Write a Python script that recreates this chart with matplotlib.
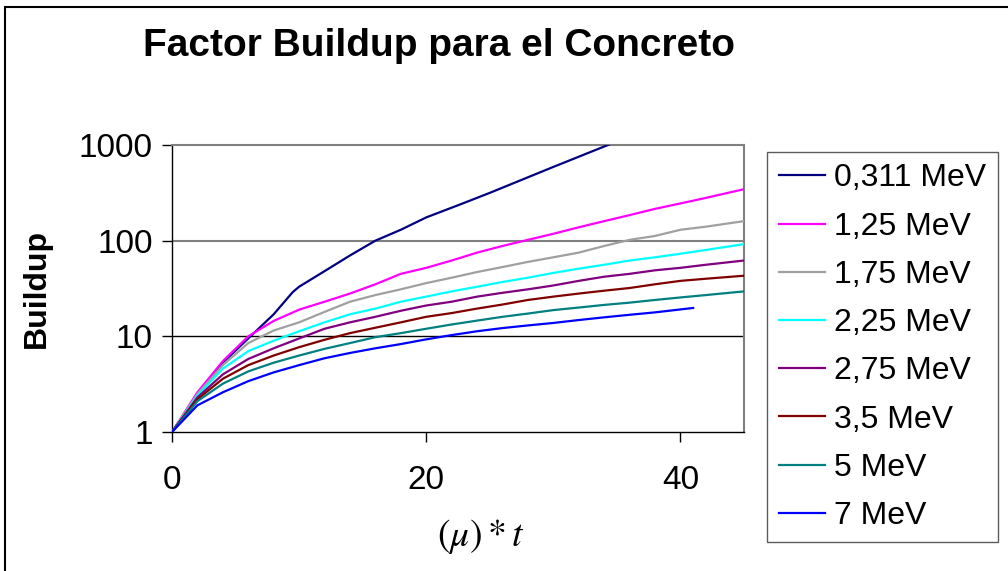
import numpy as np
import matplotlib
matplotlib.use("Agg")
import matplotlib.pyplot as plt
from matplotlib.patches import Rectangle
from matplotlib.ticker import FixedLocator, NullLocator, FuncFormatter

plt.rcParams['font.family'] = ['Liberation Sans', 'DejaVu Sans']
plt.rcParams['mathtext.fontset'] = 'stix'

# factor buildup en concreto vs (mu)*t, por energia
energias = ['0,311 MeV', '1,25 MeV', '1,75 MeV', '2,25 MeV',
            '2,75 MeV', '3,5 MeV', '5 MeV', '7 MeV']
colores = ['#000080', '#FF00FF', '#A0A0A0', '#00FFFF',
           '#800080', '#800000', '#008080', '#0000FF']

mut_0311 = [0, 2, 4, 6, 8, 9.5, 10, 12, 14, 16, 18, 20, 22.7, 25, 30, 34.3, 36, 40]
b_0311 = [1, 2.4, 5.3, 9.5, 17, 29, 33, 48, 70, 100, 130, 175, 240, 316, 590, 1000, 1250, 2000]

mut = [0, 2, 4, 6, 8, 10, 12, 14, 16, 18, 20, 22, 24, 26, 28, 30, 32, 34, 36, 38, 40, 42, 45]
b_125 = [1, 2.6, 5.5, 10, 14.5, 19, 23, 28, 35, 45, 52, 62, 75, 88, 102, 118, 138, 160, 185, 215, 245, 280, 345]
b_175 = [1, 2.5, 5.0, 8.5, 11.5, 14, 18, 23, 27, 31, 36, 41, 47, 53, 60, 67, 75, 88, 102, 112, 130, 140, 160]
b_225 = [1, 2.4, 4.6, 7, 9, 11.3, 14, 17, 19.5, 23, 26, 29.5, 33, 37, 41, 46, 51, 56, 62, 67, 73, 80, 92]
b_275 = [1, 2.3, 4.0, 5.8, 7.5, 9.5, 12, 14, 16, 18.5, 21, 23, 26, 28.5, 31, 34, 38, 42, 45, 49, 52, 56, 62]
b_35 = [1, 2.2, 3.6, 5, 6.3, 7.7, 9.2, 10.8, 12.3, 14, 16, 17.5, 19.5, 21.5, 24, 26, 28, 30, 32, 35, 38, 40, 43]
b_5 = [1, 2.1, 3.2, 4.3, 5.3, 6.3, 7.4, 8.5, 9.8, 10.8, 12, 13.3, 14.6, 16, 17.3, 18.8, 20, 21.3, 22.5, 24, 25.5, 27, 29.5]

mut_7 = [0, 2, 4, 6, 8, 10, 12, 14, 16, 18, 20, 22, 24, 26, 28, 30, 32, 34, 36, 38, 41]
b_7 = [1, 1.9, 2.6, 3.4, 4.2, 5, 5.9, 6.7, 7.5, 8.3, 9.3, 10.3, 11.3, 12.2, 13, 13.8, 14.8, 15.8, 16.8, 17.8, 19.8]

series = [(mut_0311, b_0311), (mut, b_125), (mut, b_175), (mut, b_225),
          (mut, b_275), (mut, b_35), (mut, b_5), (mut_7, b_7)]

W, H = 1008, 571
fig = plt.figure(figsize=(W / 100, H / 100), dpi=100)
ax = fig.add_axes([172 / W, 1 - 432 / H, 572 / W, 287 / H])

# lineas de referencia
ax.axhline(100, color='#808080', lw=1.5, zorder=1)
ax.axhline(10, color='black', lw=1.0, zorder=1)

for (x, y), lab, c in zip(series, energias, colores):
    ax.plot(x, y, color=c, lw=1.6, label=lab, zorder=3)

ax.set_yscale('log')
ax.set_xlim(0, 45)
ax.set_ylim(1, 1000)
ax.yaxis.set_major_locator(FixedLocator([1, 10, 100, 1000]))
ax.yaxis.set_minor_locator(NullLocator())
ax.yaxis.set_major_formatter(FuncFormatter(lambda v, p: '%d' % v))
ax.set_xticks([0, 20, 40])
ax.tick_params(direction='out', length=7, width=1, labelsize=24, pad=7)
ax.tick_params(axis='x', pad=17)

for s in ['top', 'right']:
    ax.spines[s].set_color('#808080')
    ax.spines[s].set_linewidth(1.5)
for s in ['left', 'bottom']:
    ax.spines[s].set_color('black')
    ax.spines[s].set_linewidth(1.0)

fig.text(37 / W, 1 - 288 / H, 'Buildup', fontsize=23, fontweight='bold',
         rotation=90, ha='center', va='center')
fig.text(439 / W, 1 - 56 / H, 'Factor Buildup para el Concreto',
         fontsize=28, fontweight='bold', ha='center', va='baseline')
fig.text(481 / W, 1 - 536 / H, r'$(\mu)*t$', fontsize=27,
         ha='center', va='center')

leg = fig.legend(loc='upper left', bbox_to_anchor=(767 / W, 1 - 152 / H),
                 borderaxespad=0, fontsize=23, frameon=True, fancybox=False,
                 edgecolor='#333333', handlelength=1.45, handletextpad=0.3,
                 labelspacing=0.57, borderpad=0.36)
leg.get_frame().set_linewidth(1.0)

# marco del grafico
fig.patches.append(Rectangle((5 / W, -0.01), 1.1, 1 - 7 / H + 0.01,
                             transform=fig.transFigure, fill=False,
                             edgecolor='black', lw=1.5))

fig.savefig('out.png', dpi=100)
